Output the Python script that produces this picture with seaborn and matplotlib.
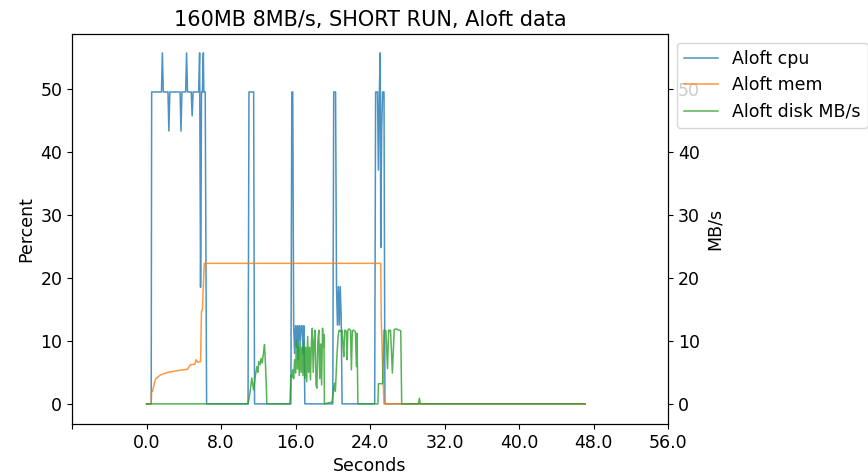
import pandas as pd
import seaborn as sns
import matplotlib
matplotlib.use("Agg")
import matplotlib.pyplot as plt

# Aloft cpu (%)
cpu_t = [0, 0.5, 0.55, 1.6, 1.7, 1.8, 2.3, 2.4, 2.5, 3.6, 3.7, 3.8, 4.2, 4.3, 4.4,
         4.8, 4.9, 5.0, 5.6, 5.7, 5.8, 5.85, 5.9, 6.0, 6.1, 6.15, 6.2, 6.3, 6.45,
         10.9, 11.0, 11.5, 11.6,
         15.5, 15.6, 15.7, 15.8, 15.9, 16.0, 16.1, 16.2, 16.3, 16.4, 16.5, 16.6,
         16.7, 16.8, 16.9, 17.0,
         20.0, 20.1, 20.3, 20.4, 20.5, 20.6, 20.7, 20.8, 20.9, 21.0,
         24.5, 24.6, 24.7, 24.8, 24.9, 25.0, 25.1, 25.15, 25.25, 25.35, 25.5, 25.6,
         47.1]
cpu_v = [0, 0, 49.5, 49.5, 55.7, 49.5, 49.5, 43.3, 49.5, 49.5, 43.3, 49.5, 49.5, 55.7, 49.5,
         49.5, 45.7, 49.5, 49.5, 55.7, 18.5, 30.0, 49.5, 49.5, 55.7, 49.5, 49.5, 49.5, 0,
         0, 49.5, 49.5, 0,
         0, 49.5, 49.5, 12.4, 8.0, 12.4, 9.0, 12.4, 7.0, 12.4, 10.0, 12.4,
         12.4, 8.0, 12.4, 0,
         0, 49.5, 49.5, 18.6, 12.5, 18.6, 12.5, 18.6, 14.0, 0,
         0, 49.5, 49.5, 49.5, 37.1, 49.5, 55.7, 24.8, 43.5, 49.5, 49.5, 0,
         0]

# Aloft mem (%)
mem_t = [0, 0.5, 0.55, 0.65, 0.87, 1.0, 1.5, 2.3, 3.4, 4.4, 4.7, 5.2, 5.3, 5.5, 5.8,
         5.9, 6.0, 6.2, 25.15, 25.2, 25.35, 25.5, 47.1]
mem_v = [0, 0, 2.0, 2.0, 3.5, 4.0, 4.6, 5.0, 5.3, 5.5, 6.2, 6.3, 7.0, 6.6, 6.7,
         14.7, 15.0, 22.3, 22.3, 14.1, 6.2, 0, 0]

# Aloft disk (MB/s)
disk_t = [0, 10.9, 11.0, 11.1, 11.3, 11.5, 11.7, 11.85, 11.95, 12.05, 12.2, 12.3, 12.42,
          12.56, 12.67, 12.78, 12.85, 12.92,
          15.4, 15.5, 15.6, 15.7, 15.8, 15.9, 16.0, 16.1, 16.2, 16.3, 16.4, 16.5, 16.6,
          16.7, 16.8, 16.9, 17.0, 17.1, 17.2, 17.3, 17.4, 17.5, 17.6, 17.7, 17.8, 17.9,
          18.0, 18.1, 18.2, 18.3, 18.4, 18.5, 18.6, 18.7, 18.8, 18.9, 19.0, 19.05, 19.1,
          19.92, 20.17, 20.28, 20.46, 20.57, 20.68, 20.82, 21.0, 21.1, 21.18, 21.29,
          21.46, 21.54, 21.61, 21.75, 21.9, 22.0, 22.1, 22.26, 22.43, 22.54, 22.6, 22.7,
          24.85, 24.9, 25.35, 25.5, 25.7, 25.88, 26.0, 26.1, 26.2, 26.4, 26.6, 26.8,
          27.1, 27.3, 27.4,
          29.2, 29.3, 29.4, 47.1]
disk_v = [0, 0, 0.8, 1.7, 4.1, 2.2, 4.6, 5.9, 5.0, 6.7, 6.2, 7.2, 6.5,
          8.1, 9.4, 6.0, 3.3, 0,
          0, 4.6, 4.2, 5.4, 4.0, 7.0, 4.9, 10.2, 5.5, 9.0, 4.5, 9.8, 5.0,
          9.0, 4.5, 10.0, 4.0, 9.0, 3.5, 10.7, 5.0, 9.0, 3.8, 9.5, 12.0, 5.0,
          10.0, 11.7, 3.0, 2.5, 10.0, 11.7, 4.0, 9.5, 3.0, 12.0, 9.0, 11.0, 0,
          0.3, 3.3, 2.0, 8.0, 10.7, 11.7, 11.5, 11.7, 9.1, 7.5, 11.7,
          11.5, 7.0, 11.7, 11.9, 11.7, 5.4, 11.6, 11.7, 11.4, 5.9, 11.2, 0,
          0, 3.2, 3.2, 11.7, 11.6, 5.6, 11.7, 11.6, 11.7, 4.9, 11.8, 11.9,
          11.7, 11.6, 0,
          0, 0.9, 0, 0]

xticks = [-8, 0, 8, 16, 24, 32, 40, 48, 56]
xtick_labels = ["", "0.0", "8.0", "16.0", "24.0", "32.0", "40.0", "48.0", "56.0"]

cpu = pd.DataFrame({"t": cpu_t, "v": cpu_v})
mem = pd.DataFrame({"t": mem_t, "v": mem_v})
disk = pd.DataFrame({"t": disk_t, "v": disk_v})

plt.rcParams["font.size"] = 12.5
fig, ax = plt.subplots(figsize=(8.68, 4.76), dpi=100)
fig.subplots_adjust(left=0.083, right=0.7696, top=0.9286, bottom=0.1092)

sns.lineplot(data=cpu, x="t", y="v", ax=ax, color="#1f77b4", lw=1.1, alpha=0.8,
             estimator=None, label="Aloft cpu", legend=False)
sns.lineplot(data=mem, x="t", y="v", ax=ax, color="#ff7f0e", lw=1.1, alpha=0.8,
             estimator=None, label="Aloft mem", legend=False)
ax2 = ax.twinx()
sns.lineplot(data=disk, x="t", y="v", ax=ax2, color="#2ca02c", lw=1.1, alpha=0.8,
             estimator=None, label="Aloft disk MB/s", legend=False)

ax.set_ylim(-3.2, 58.7)
ax2.set_ylim(ax.get_ylim())
ax.set_xlim(-8, 56)
ax.set_xticks(xticks)
ax.set_xticklabels(xtick_labels)
ax.set_xlabel("Seconds")
ax.set_ylabel("Percent")
ax2.set_ylabel("MB/s")
ax.set_title("160MB 8MB/s, SHORT RUN, Aloft data", fontsize=15)

h1, l1 = ax.get_legend_handles_labels()
h2, l2 = ax2.get_legend_handles_labels()
ax2.legend(h1 + h2, l1 + l2, loc="upper left", bbox_to_anchor=(1.0, 1.0))

plt.savefig("out.png")
